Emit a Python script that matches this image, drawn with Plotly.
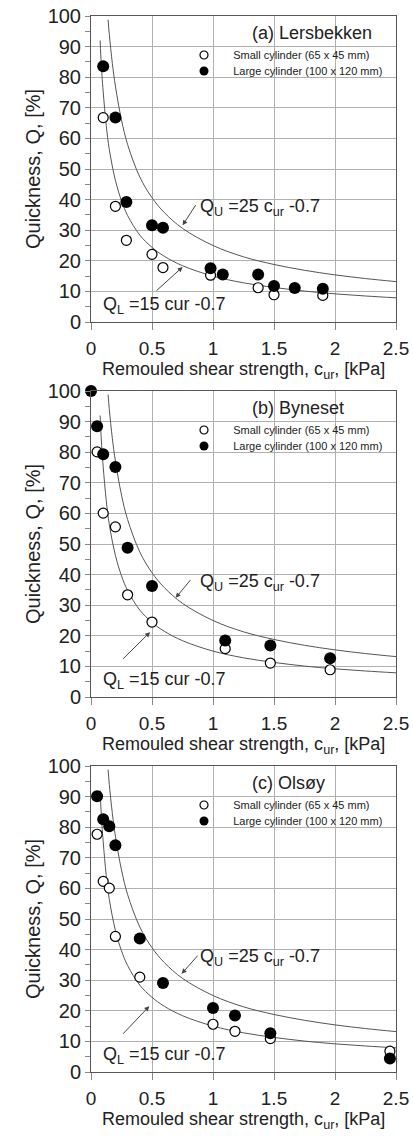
import plotly.graph_objects as go

# ---------------- data ----------------
panel_labels = ["(a) Lersbekken", "(b) Byneset", "(c) Olsøy"]

# Panel (a) Lersbekken
a_small_x = [0.10, 0.20, 0.29, 0.50, 0.59, 0.98, 1.37, 1.50, 1.90]
a_small_q = [66.8, 37.8, 26.7, 22.1, 17.8, 15.3, 11.2, 8.9, 8.7]
a_large_x = [0.10, 0.20, 0.29, 0.50, 0.59, 0.98, 1.08, 1.37, 1.50, 1.67, 1.90]
a_large_q = [83.6, 66.8, 39.2, 31.6, 30.8, 17.6, 15.5, 15.5, 11.8, 11.1, 10.9]

# Panel (b) Byneset
b_small_x = [0.05, 0.10, 0.20, 0.30, 0.50, 1.10, 1.47, 1.96]
b_small_q = [80.1, 60.1, 55.6, 33.4, 24.5, 15.8, 11.1, 8.9]
b_large_x = [0.00, 0.05, 0.10, 0.20, 0.30, 0.50, 1.10, 1.47, 1.96]
b_large_q = [100.0, 88.5, 79.3, 75.2, 48.8, 36.3, 18.5, 16.8, 12.7]

# Panel (c) Olsøy
c_small_x = [0.05, 0.10, 0.15, 0.20, 0.40, 1.00, 1.18, 1.47, 2.45]
c_small_q = [77.7, 62.3, 60.1, 44.3, 31.0, 15.6, 13.3, 10.9, 6.8]
c_large_x = [0.05, 0.10, 0.15, 0.20, 0.40, 0.59, 1.00, 1.18, 1.47, 2.45]
c_large_q = [90.1, 82.6, 80.3, 74.1, 43.6, 29.1, 20.9, 18.5, 12.7, 4.4]

# Fitted curves
upper_x = [0.14, 0.15, 0.175, 0.2, 0.25, 0.3, 0.4, 0.5, 0.6, 0.75, 1.0, 1.25, 1.5, 1.75, 2.0, 2.25, 2.5]
upper_q = [98.8, 94.0, 84.5, 77.1, 66.0, 58.0, 47.4, 40.6, 35.8, 30.6, 25.0, 21.3, 18.8, 16.9, 15.4, 14.2, 13.2]
lower_x = [0.075, 0.08, 0.09, 0.1, 0.125, 0.15, 0.2, 0.25, 0.3, 0.4, 0.5, 0.6, 0.75, 1.0, 1.25, 1.5, 1.75, 2.0, 2.25, 2.5]
lower_q = [92.0, 87.3, 80.6, 75.2, 64.2, 56.4, 46.3, 39.6, 34.8, 28.4, 24.4, 21.5, 18.4, 15.0, 12.8, 11.3, 10.1, 9.2, 8.5, 7.9]

x_ticks = [0, 0.5, 1, 1.5, 2, 2.5]
x_tick_text = ["0", "0.5", "1", "1.5", "2", "2.5"]
y_ticks = [0, 10, 20, 30, 40, 50, 60, 70, 80, 90, 100]

legend_small = "Small cylinder (65 x 45 mm)"
legend_large = "Large cylinder (100 x 120 mm)"

panels = [
    (a_small_x, a_small_q, a_large_x, a_large_q),
    (b_small_x, b_small_q, b_large_x, b_large_q),
    (c_small_x, c_small_q, c_large_x, c_large_q),
]

# ---------------- layout geometry ----------------
W, H = 413, 1138
ML, MR, MT, MB = 91, 17, 16, 66
PH = H - MT - MB
PW = W - ML - MR
panel_px = [(16, 322), (391, 697), (766, 1072)]
domains = [[1 - (b - MT) / PH, 1 - (t - MT) / PH] for t, b in panel_px]
legend_rows = [(55, 71), (430, 446), (805, 821)]

FONT = "Liberation Sans, Arial, sans-serif"
TXT = "#222222"
GRID = "#b0b0b0"
LINE = "#555555"

fig = go.Figure()

nb = "\u00a0\u00a0\u00a0"
layout_legends = {}
for i, (sx, sq, lx, lq) in enumerate(panels):
    xa = "x" if i == 0 else f"x{i+1}"
    ya = "y" if i == 0 else f"y{i+1}"
    fig.add_trace(go.Scatter(x=upper_x, y=upper_q, mode="lines", line=dict(color=LINE, width=1, shape="spline"),
                             xaxis=xa, yaxis=ya, showlegend=False, hoverinfo="skip"))
    fig.add_trace(go.Scatter(x=lower_x, y=lower_q, mode="lines", line=dict(color=LINE, width=1, shape="spline"),
                             xaxis=xa, yaxis=ya, showlegend=False, hoverinfo="skip"))
    fig.add_trace(go.Scatter(x=sx, y=sq, mode="markers", showlegend=False,
                             marker=dict(symbol="circle", size=10, color="white", line=dict(color="black", width=1.2)),
                             xaxis=xa, yaxis=ya, cliponaxis=False))
    fig.add_trace(go.Scatter(x=lx, y=lq, mode="markers", showlegend=False,
                             marker=dict(symbol="circle", size=12, color="black", line=dict(color="black", width=0)),
                             xaxis=xa, yaxis=ya, cliponaxis=False))
    # legend-only entries (one legend per row for tight spacing)
    for j, (name, mk) in enumerate([
        (legend_small, dict(symbol="circle", size=8, color="white", line=dict(color="black", width=1.2))),
        (legend_large, dict(symbol="circle", size=9, color="black", line=dict(color="black", width=0))),
    ]):
        lg_idx = 2 * i + j + 1
        lg = "legend" if lg_idx == 1 else f"legend{lg_idx}"
        fig.add_trace(go.Scatter(x=[None], y=[None], mode="markers", name=nb + name, marker=mk,
                                 xaxis=xa, yaxis=ya, legend=lg, showlegend=True))
        row_px = legend_rows[i][j]
        layout_legends[lg] = dict(
            x=(184 - ML) / PW, xanchor="left",
            y=1 - (row_px - MT) / PH, yanchor="middle",
            bgcolor="rgba(0,0,0,0)", borderwidth=0,
            font=dict(size=11, family=FONT, color=TXT),
            itemsizing="trace",
        )

layout = dict(
    width=W, height=H,
    margin=dict(l=ML, r=MR, t=MT, b=MB, autoexpand=False),
    paper_bgcolor="white", plot_bgcolor="white",
    font=dict(family=FONT, color=TXT, size=18),
    showlegend=True,
)
layout.update(layout_legends)

annotations = []
for i in range(3):
    sfx = "" if i == 0 else str(i + 1)
    xref = "x" + sfx
    yref = "y" + sfx
    layout["xaxis" + sfx] = dict(
        domain=[0, 1], anchor=yref, range=[0, 2.5], tickvals=x_ticks, ticktext=x_tick_text,
        showgrid=True, gridcolor=GRID, gridwidth=1, zeroline=False,
        showline=True, linecolor=LINE, linewidth=1, mirror=True,
        ticks="outside", ticklen=7, tickcolor="#888888", ticklabelstandoff=2,
        tickfont=dict(size=19, family=FONT, color=TXT),
    )
    layout["yaxis" + sfx] = dict(
        domain=domains[i], anchor=xref, range=[0, 100], tickvals=y_ticks,
        showgrid=True, gridcolor=GRID, gridwidth=1, zeroline=False,
        showline=True, linecolor=LINE, linewidth=1, mirror=True,
        ticks="outside", ticklen=5, tickcolor="#888888",
        minor=dict(dtick=5, ticks="outside", ticklen=5, tickcolor="#888888", showgrid=False),
        tickfont=dict(size=20, family=FONT, color=TXT),
    )
    # axis titles
    annotations.append(dict(text="Remouled shear strength, c<sub>ur</sub>, [kPa]", xref=xref + " domain", yref=yref + " domain",
                            x=0.5, y=0, xanchor="center", yanchor="middle", yshift=-48, showarrow=False,
                            font=dict(size=18, family=FONT, color=TXT)))
    annotations.append(dict(text="Quickness, Q, [%]", xref=xref + " domain", yref=yref + " domain",
                            x=0, y=0.5, xanchor="center", yanchor="middle", xshift=-58, textangle=-90, showarrow=False,
                            font=dict(size=20, family=FONT, color=TXT)))
    # panel label
    annotations.append(dict(text=panel_labels[i], xref=xref, yref=yref, x=1.30, y=94.3,
                            xanchor="left", yanchor="middle", showarrow=False,
                            font=dict(size=18, family=FONT, color=TXT)))
    # equation labels
    annotations.append(dict(text="Q<sub>U</sub> =25 c<sub>ur</sub> -0.7", xref=xref, yref=yref, x=0.88, y=37.5,
                            xanchor="left", yanchor="middle", showarrow=False,
                            font=dict(size=18, family=FONT, color=TXT)))
    annotations.append(dict(text="Q<sub>L</sub> =15 cur -0.7", xref=xref, yref=yref, x=0.085, y=5.5,
                            xanchor="left", yanchor="middle", showarrow=False,
                            font=dict(size=18, family=FONT, color=TXT)))

# arrows (tail, head) per panel
arrows_upper = [((0.866, 38.7), (0.751, 31.6)), ((0.825, 38.7), (0.694, 32.4)), ((0.885, 38.5), (0.743, 32.1))]
arrows_lower = [((0.525, 9.8), (0.751, 18.0)), ((0.251, 12.0), (0.484, 21.2)), ((0.251, 12.0), (0.478, 21.5))]
for i in range(3):
    sfx = "" if i == 0 else str(i + 1)
    for (tx, ty), (hx, hy) in (arrows_upper[i], arrows_lower[i]):
        annotations.append(dict(x=hx, y=hy, ax=tx, ay=ty, xref="x" + sfx, yref="y" + sfx,
                                axref="x" + sfx, ayref="y" + sfx, text="", showarrow=True,
                                arrowhead=2, arrowsize=1, arrowwidth=1, arrowcolor="#444444"))

layout["annotations"] = annotations
fig.update_layout(**layout)

fig.write_html("out.html", config={"displayModeBar": False},
               post_script="document.body.style.margin='0px';document.body.style.overflow='hidden';")
